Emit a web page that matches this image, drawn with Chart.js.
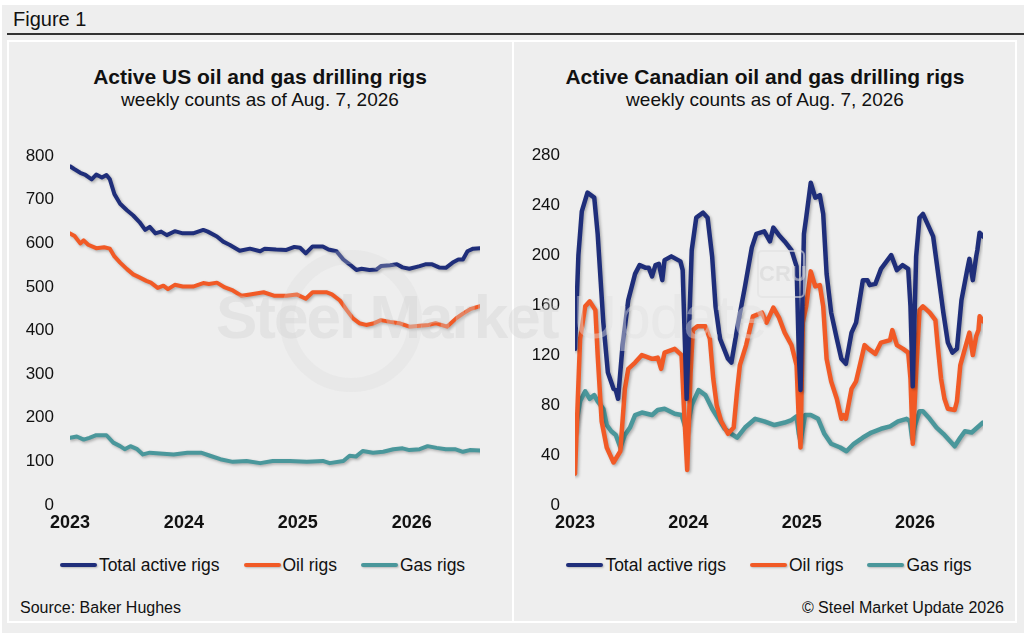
<!DOCTYPE html>
<html>
<head>
<meta charset="utf-8">
<script src="https://cdn.jsdelivr.net/npm/chart.js@4.4.1/dist/chart.umd.min.js"></script>
<style>
  html,body{margin:0;padding:0;}
  body{width:1024px;height:633px;position:relative;overflow:hidden;background:#ffffff;font-family:"Liberation Sans",Arial,sans-serif;color:#111;}
  .abs{position:absolute;}
  .title{position:absolute;width:500px;text-align:center;font-weight:bold;font-size:21px;line-height:25px;}
  .sub{position:absolute;width:500px;text-align:center;font-size:19px;line-height:22px;}
  .legend{position:absolute;display:flex;align-items:center;justify-content:center;font-size:17.5px;line-height:20px;white-space:nowrap;}
  .legend .item{display:flex;align-items:center;margin:0 12px;}
  .legend .swatch{display:inline-block;width:37px;height:4px;border-radius:2px;margin-right:2px;box-shadow:1px 1px 2px rgba(0,0,0,0.22);}
  canvas{position:absolute;}
</style>
</head>
<body>
<div class="abs" style="left:2px;top:5px;right:0;bottom:0;background:#eeeeee;"></div>
<div class="abs" style="left:13px;top:7px;font-size:20px;line-height:24px;">Figure 1</div>
<div class="abs" style="left:7px;right:0;top:33px;height:2px;background:#333;"></div>
<div class="abs" style="left:7px;top:40px;width:1006px;height:579px;border:2px solid #ffffff;"></div>
<div class="abs" style="left:512px;top:40px;width:2px;height:583px;background:#ffffff;"></div>

<div class="title" style="left:10px;top:64px;">Active US oil and gas drilling rigs</div>
<div class="sub" style="left:10px;top:89px;">weekly counts as of Aug. 7, 2026</div>
<div class="title" style="left:515px;top:64px;">Active Canadian oil and gas drilling rigs</div>
<div class="sub" style="left:515px;top:89px;">weekly counts as of Aug. 7, 2026</div>

<canvas id="usChart" width="500" height="410" style="left:10px;top:130px;"></canvas>
<canvas id="caChart" width="500" height="410" style="left:515px;top:130px;"></canvas>

<div id="usLegend" class="legend" style="left:10px;width:505px;top:555px;"></div>
<div id="caLegend" class="legend" style="left:515px;width:508px;top:555px;"></div>

<div class="abs" style="left:20px;top:598px;font-size:16px;line-height:19px;">Source: Baker Hughes</div>
<div class="abs" style="right:20px;top:598px;font-size:16px;line-height:19px;">© Steel Market Update 2026</div>

<!-- faint watermark overlay -->
<div class="abs" style="left:280px;top:250px;width:114px;height:114px;border:14px solid rgba(215,215,215,0.25);border-radius:50%;pointer-events:none;"></div>
<div class="abs" style="left:216px;top:282px;font-size:62px;line-height:70px;font-weight:bold;letter-spacing:-2px;color:rgba(205,205,205,0.35);white-space:nowrap;pointer-events:none;">Steel Market <span style="font-weight:normal;letter-spacing:-1px;color:rgba(225,225,225,0.45);">Update</span></div>
<div class="abs" style="left:757px;top:250px;width:44px;height:44px;border:2px solid rgba(225,225,225,0.6);border-radius:5px;font-size:22px;font-weight:bold;line-height:44px;text-align:center;color:rgba(215,215,215,0.6);pointer-events:none;">CRU</div>

<script>
// ---------- Series names and colours ----------
const seriesNames = ["Total active rigs", "Oil rigs", "Gas rigs"];
const seriesColors = ["#1f2e7a", "#f15a26", "#4a979b"];

// ---------- Year ticks ----------
const yearTicks = [2023, 2024, 2025, 2026];

// ---------- US data (decimal year, rig count) ----------
const usTotalX = [2023.00,2023.04,2023.09,2023.13,2023.19,2023.23,2023.28,2023.32,2023.35,2023.39,2023.44,2023.50,2023.555,2023.61,2023.66,2023.70,2023.75,2023.80,2023.85,2023.92,2023.99,2024.08,2024.17,2024.21,2024.29,2024.345,2024.40,2024.49,2024.58,2024.67,2024.71,2024.81,2024.90,2024.97,2025.02,2025.07,2025.13,2025.22,2025.27,2025.34,2025.40,2025.455,2025.515,2025.56,2025.63,2025.69,2025.73,2025.81,2025.87,2025.92,2025.98,2026.07,2026.12,2026.18,2026.24,2026.30,2026.36,2026.41,2026.45,2026.49,2026.54,2026.60];
const usTotal  = [777,770,762,758,747,758,751,757,747,713,691,676,664,649,631,638,623,627,619,628,623,623,631,627,616,604,597,583,588,582,588,586,585,592,590,577,593,593,586,582,563,552,539,542,539,540,548,550,552,545,542,548,552,552,545,544,556,563,563,582,588,589];

const usOilX = [2023.00,2023.04,2023.09,2023.12,2023.16,2023.23,2023.30,2023.35,2023.39,2023.44,2023.50,2023.555,2023.61,2023.67,2023.71,2023.77,2023.82,2023.86,2023.92,2023.99,2024.08,2024.17,2024.22,2024.29,2024.36,2024.43,2024.505,2024.58,2024.70,2024.79,2024.90,2024.99,2025.07,2025.13,2025.25,2025.30,2025.37,2025.43,2025.485,2025.54,2025.60,2025.67,2025.73,2025.81,2025.89,2025.98,2026.07,2026.15,2026.21,2026.31,2026.39,2026.45,2026.52,2026.60];
const usOil  = [623,617,600,607,597,589,591,588,570,556,541,529,522,514,510,498,503,495,505,501,501,509,507,510,499,492,480,483,488,480,480,483,473,488,488,483,469,447,428,417,413,417,424,420,417,409,411,413,417,409,428,439,450,456];

const usGasX = [2023.00,2023.06,2023.12,2023.17,2023.23,2023.32,2023.38,2023.44,2023.48,2023.53,2023.59,2023.64,2023.70,2023.79,2023.91,2024.03,2024.15,2024.23,2024.32,2024.43,2024.55,2024.67,2024.78,2024.93,2025.08,2025.22,2025.28,2025.40,2025.455,2025.51,2025.57,2025.66,2025.75,2025.84,2025.92,2025.98,2026.07,2026.14,2026.22,2026.30,2026.38,2026.45,2026.51,2026.60];
const usGas  = [154,157,150,154,160,160,143,135,128,135,128,116,120,118,116,120,120,113,105,99,101,96,101,101,99,101,96,101,113,111,124,120,122,128,130,126,128,135,131,128,128,122,126,125];

// ---------- Canadian data (decimal year, rig count) ----------
const caTotalX = [2023.00,2023.03,2023.06,2023.11,2023.14,2023.17,2023.20,2023.25,2023.29,2023.34,2023.36,2023.38,2023.42,2023.47,2023.53,2023.57,2023.62,2023.65,2023.68,2023.71,2023.74,2023.77,2023.79,2023.85,2023.93,2023.95,2023.985,2024.03,2024.07,2024.13,2024.17,2024.21,2024.24,2024.28,2024.35,2024.38,2024.44,2024.50,2024.56,2024.60,2024.67,2024.72,2024.75,2024.80,2024.85,2024.91,2024.955,2024.975,2024.99,2025.02,2025.04,2025.08,2025.12,2025.16,2025.19,2025.22,2025.26,2025.31,2025.35,2025.39,2025.44,2025.48,2025.54,2025.58,2025.60,2025.65,2025.70,2025.79,2025.84,2025.89,2025.94,2025.96,2025.98,2026.01,2026.04,2026.07,2026.11,2026.16,2026.20,2026.25,2026.29,2026.33,2026.37,2026.41,2026.46,2026.48,2026.51,2026.54,2026.55,2026.57,2026.60];
const caTotal  = [125,200,235,250,248,246,217,146,106,93,92,85,128,164,185,192,190,190,183,192,193,180,196,199,195,188,85,204,230,234,230,199,159,133,117,114,146,175,206,217,219,211,222,216,211,204,191,120,92,217,230,258,246,248,233,185,154,133,117,113,138,146,180,180,176,177,189,200,188,192,189,159,95,199,230,233,225,215,188,154,130,122,125,164,188,197,180,199,204,218,215];

const caOilX = [2023.00,2023.045,2023.09,2023.13,2023.18,2023.20,2023.235,2023.28,2023.34,2023.40,2023.44,2023.47,2023.53,2023.59,2023.68,2023.73,2023.76,2023.79,2023.88,2023.94,2023.96,2023.99,2024.02,2024.04,2024.08,2024.15,2024.19,2024.22,2024.25,2024.29,2024.35,2024.40,2024.43,2024.455,2024.51,2024.57,2024.65,2024.69,2024.75,2024.80,2024.85,2024.91,2024.955,2024.975,2024.99,2025.01,2025.04,2025.08,2025.12,2025.16,2025.19,2025.22,2025.26,2025.31,2025.35,2025.37,2025.39,2025.44,2025.48,2025.555,2025.59,2025.65,2025.70,2025.78,2025.80,2025.84,2025.895,2025.94,2025.96,2025.98,2026.01,2026.04,2026.07,2026.13,2026.18,2026.20,2026.23,2026.26,2026.29,2026.35,2026.37,2026.40,2026.44,2026.48,2026.51,2026.54,2026.56,2026.57,2026.60];
const caOil  = [25,133,159,163,156,120,67,46,34,43,93,109,114,120,117,118,109,122,125,120,80,28,106,140,143,143,133,101,80,67,57,62,91,112,128,151,154,146,158,150,138,128,112,67,46,146,159,187,175,176,159,117,99,85,69,72,69,93,99,128,125,121,130,132,140,128,125,122,101,49,106,156,159,154,148,128,101,85,77,76,83,112,125,138,120,135,140,151,147];

const caGasX = [2023.00,2023.045,2023.09,2023.13,2023.17,2023.20,2023.25,2023.28,2023.32,2023.36,2023.40,2023.44,2023.485,2023.53,2023.59,2023.68,2023.73,2023.79,2023.88,2023.94,2023.985,2024.03,2024.09,2024.15,2024.21,2024.265,2024.32,2024.38,2024.43,2024.50,2024.59,2024.67,2024.76,2024.85,2024.91,2024.955,2024.975,2024.99,2025.03,2025.08,2025.145,2025.20,2025.26,2025.34,2025.395,2025.46,2025.54,2025.615,2025.70,2025.78,2025.85,2025.925,2025.955,2025.975,2026.00,2026.04,2026.07,2026.13,2026.19,2026.25,2026.31,2026.35,2026.40,2026.44,2026.50,2026.55,2026.60];
const caGas  = [59,83,91,85,88,83,77,64,59,56,46,56,62,72,74,72,76,77,73,72,59,80,92,88,77,69,61,57,54,62,69,67,64,66,68,71,57,51,72,72,69,57,49,46,43,49,54,58,61,63,67,69,67,53,64,75,75,69,62,57,51,47,54,59,58,62,66];

// ---------- Axis ranges ----------
const usYTicks = {max: 800, step: 100};
const caYTicks = {max: 280, step: 40};
const xRange = {min: 2023, max: 2026.6};

const shadowPlugin = {
  id: 'lineShadow',
  beforeDatasetsDraw(chart) {
    const ctx = chart.ctx;
    ctx.save();
    ctx.shadowColor = 'rgba(0,0,0,0.28)';
    ctx.shadowBlur = 3;
    ctx.shadowOffsetX = 1.5;
    ctx.shadowOffsetY = 1.5;
  },
  afterDatasetsDraw(chart) { chart.ctx.restore(); }
};

function buildDatasets(xs, ys, width) {
  return ys.map((arr, k) => ({
    label: seriesNames[k],
    data: arr.map((v, i) => ({x: xs[k][i], y: v})),
    borderColor: seriesColors[k],
    backgroundColor: seriesColors[k],
    borderWidth: width,
    pointRadius: 0,
    tension: 0,
    borderJoinStyle: 'round',
    borderCapStyle: 'round',
    order: k
  })).reverse();
}

function makeChart(id, datasets, yCfg, padRight, yPad) {
  return new Chart(document.getElementById(id), {
    type: 'line',
    data: {datasets},
    plugins: [shadowPlugin],
    options: {
      responsive: false,
      animation: false,
      layout: {padding: {top: 20, right: padRight, left: 0, bottom: 0}},
      plugins: {legend: {display: false}, tooltip: {enabled: false}},
      scales: {
        x: {
          type: 'linear', min: xRange.min, max: xRange.max,
          grid: {display: false, drawTicks: false}, border: {display: false},
          afterBuildTicks: s => { s.ticks = yearTicks.map(v => ({value: v})); },
          ticks: {padding: 7, color: '#111', font: {size: 18, weight: 'bold', family: '"Liberation Sans", Arial, sans-serif'}, callback: v => String(v), autoSkip: false, maxRotation: 0},
          afterFit: s => { s.height = 35; }
        },
        y: {
          min: 0, max: yCfg.max,
          grid: {display: false, drawTicks: false}, border: {display: false},
          ticks: {stepSize: yCfg.step, padding: yPad, color: '#111', font: {size: 17, family: '"Liberation Sans", Arial, sans-serif'}},
          afterFit: s => { s.width = 60; }
        }
      }
    }
  });
}

makeChart('usChart', buildDatasets([usTotalX, usOilX, usGasX], [usTotal, usOil, usGas], 4), usYTicks, 30, 16);
makeChart('caChart', buildDatasets([caTotalX, caOilX, caGasX], [caTotal, caOil, caGas], 4.5), caYTicks, 32, 15);

function buildLegend(id) {
  const el = document.getElementById(id);
  seriesNames.forEach((n, i) => {
    const item = document.createElement('span');
    item.className = 'item';
    const sw = document.createElement('span');
    sw.className = 'swatch';
    sw.style.background = seriesColors[i];
    const t = document.createElement('span');
    t.textContent = n;
    item.appendChild(sw); item.appendChild(t);
    el.appendChild(item);
  });
}
buildLegend('usLegend');
buildLegend('caLegend');
</script>
</body>
</html>
